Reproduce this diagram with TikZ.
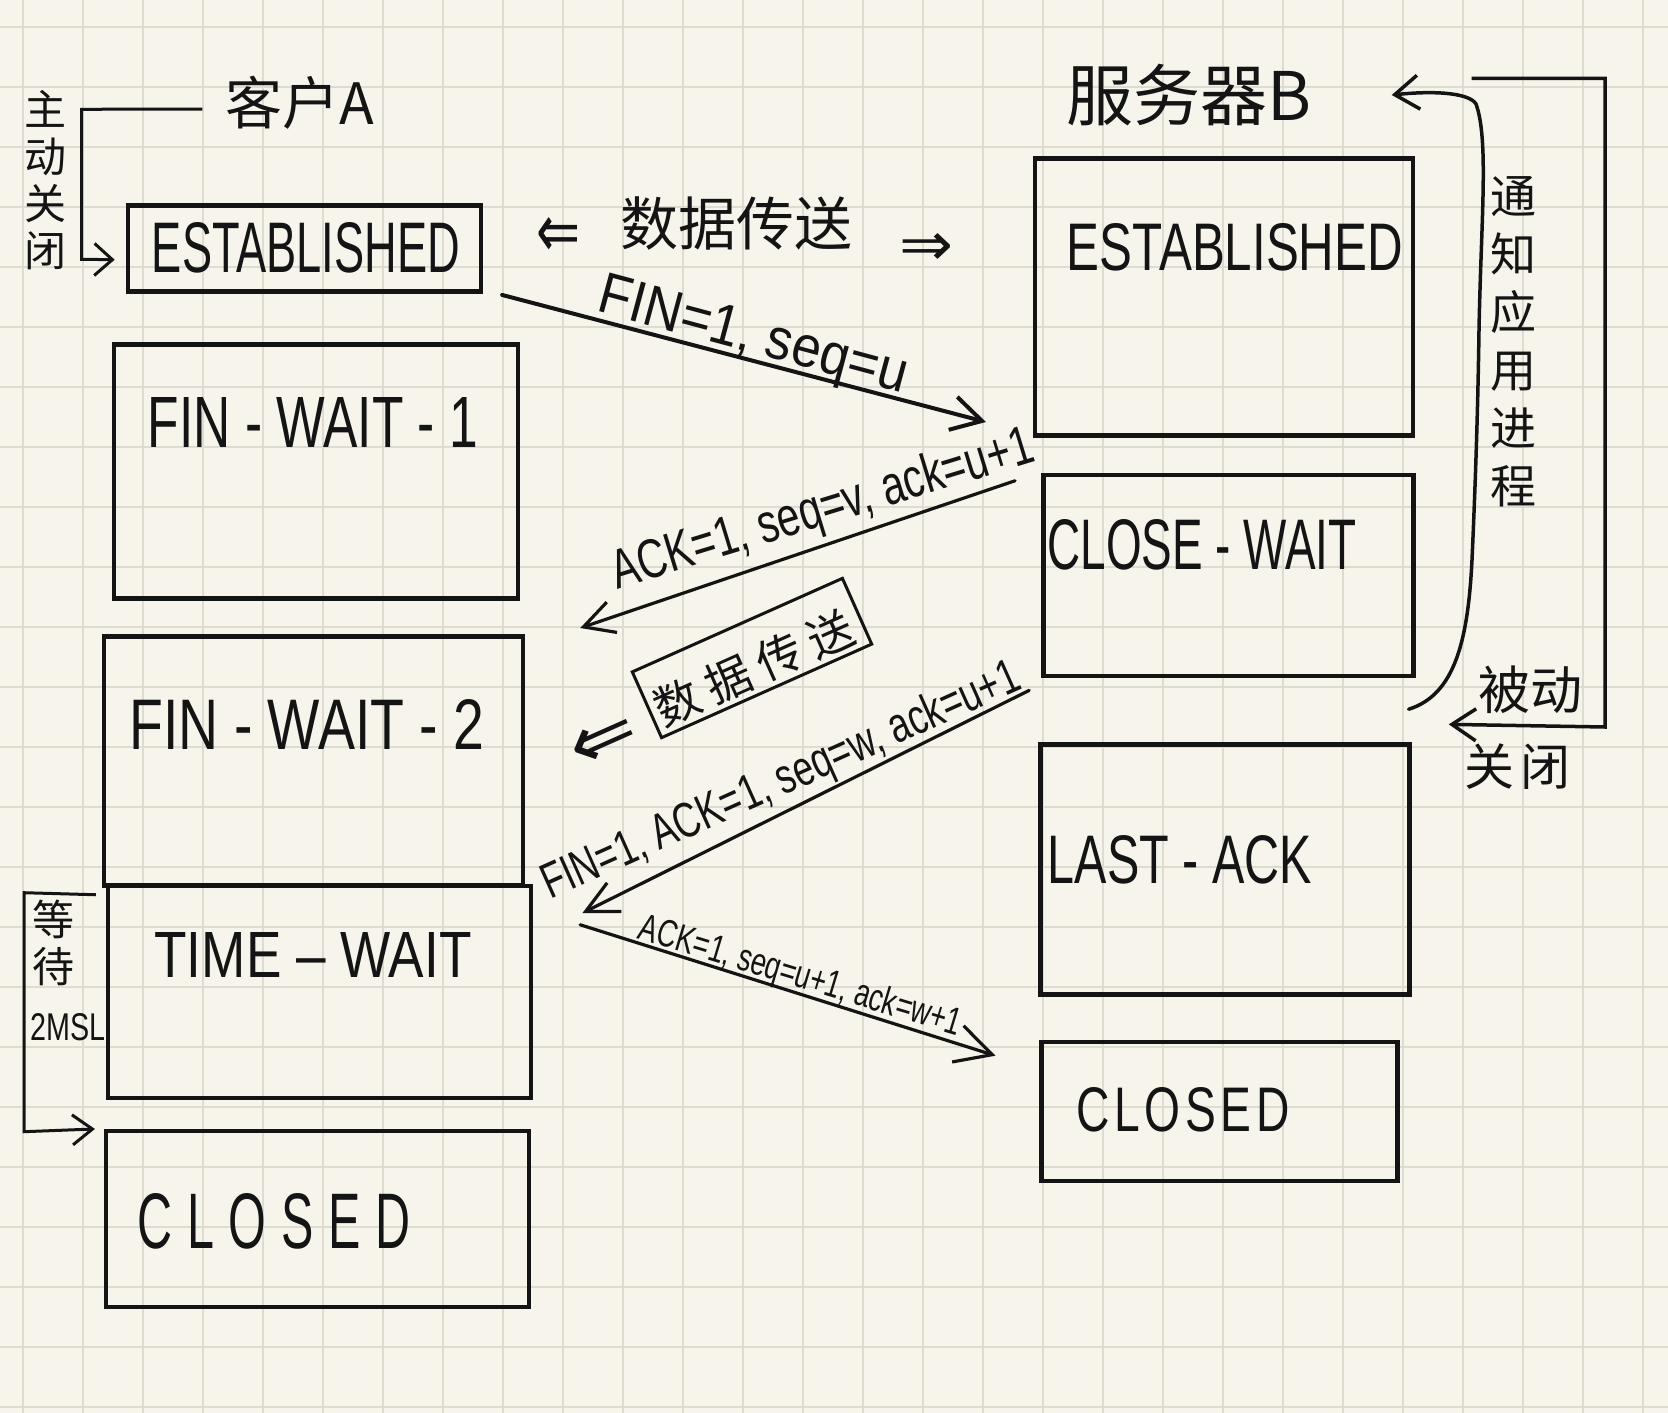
\documentclass[tikz,border=0pt]{standalone}
\usepackage{fontspec}
\usepackage{graphicx}
\setmainfont{Liberation Sans}
\newfontfamily\cjk{Noto Sans CJK SC}
\newfontfamily\dvs{DejaVu Sans}
\usetikzlibrary{arrows.meta,calc}
\definecolor{paper}{HTML}{F7F5EB}
\definecolor{gridc}{HTML}{DEDBD1}
\definecolor{ink}{HTML}{141414}
\newcommand{\fitbox}[3]{\resizebox{#1pt}{#2pt}{#3}}
\begin{document}
\begin{tikzpicture}[x=1pt,y=-1pt,
  statebox/.style={draw=ink,line width=4.5pt,inner sep=0pt},
  lbl/.style={inner sep=0pt,text=ink},
  msg/.style={draw=ink,line width=3.2pt,line cap=round},
  brk/.style={draw=ink,line width=3pt,line join=miter},
  cjkv/.style={lbl,align=center,font=\cjk\fontsize{#1}{#1}\selectfont},
]
% paper
\fill[paper] (0,0) rectangle (1668,1413);
\useasboundingbox (0,0) rectangle (1668,1413);
\foreach \i in {0,...,27} \draw[gridc,line width=2pt] ({23.3+60*\i},0) -- ({23.3+60*\i},1413);
\foreach \j in {0,...,23} \draw[gridc,line width=2pt] (0,{26.7+60*\j}) -- (1668,{26.7+60*\j});

% titles
\node[lbl,font=\cjk\fontsize{57}{60}\selectfont] (cliA) at (300,103) {客户A};
\node[lbl,font=\cjk\fontsize{67}{70}\selectfont] (srvB) at (1189,95) {服务器B};

% client boxes
\node[statebox,minimum width=353pt,minimum height=86pt] (estA) at (304.4,248.7) {};
\node[statebox,minimum width=404pt,minimum height=254pt] (fw1) at (316,471.5) {};
\node[statebox,minimum width=419pt,minimum height=249pt] (fw2) at (313.7,761) {};
\node[statebox,minimum width=423pt,minimum height=212pt] (tw) at (319.4,992) {};
\node[statebox,minimum width=423pt,minimum height=176pt] (clA) at (317.7,1219.2) {};
% server boxes
\node[statebox,minimum width=378pt,minimum height=277pt] (estB) at (1224.2,297) {};
\node[statebox,minimum width=370pt,minimum height=201pt] (cw) at (1228.3,575.5) {};
\node[statebox,minimum width=369pt,minimum height=250pt] (la) at (1225,869.6) {};
\node[statebox,minimum width=356pt,minimum height=139pt] (clB) at (1219.7,1111.7) {};

% state names
\node[lbl] (estAt) at (306,248) {\fitbox{308}{50}{ESTABLISHED}};
\node[lbl] (fw1t) at (313,422) {\fitbox{330}{50}{FIN - WAIT - 1}};
\node[lbl] (fw2t) at (307,724) {\fitbox{355}{50}{FIN - WAIT - 2}};
\node[lbl] (twt) at (313,955) {\fitbox{317}{45}{TIME – WAIT}};
\node[lbl] (clAt) at (274,1221) {\fitbox{272}{55}{\addfontfeatures{LetterSpace=30}CLOSED}};
\node[lbl] (estBt) at (1235,247) {\fitbox{336}{47}{ESTABLISHED}};
\node[lbl] (cwt) at (1202,545) {\fitbox{309}{50}{CLOSE - WAIT}};
\node[lbl] (lat) at (1180,860) {\fitbox{264}{48}{LAST - ACK}};
\node[lbl] (clBt) at (1183,1110) {\fitbox{213}{44}{\addfontfeatures{LetterSpace=10}CLOSED}};

% side notes
\node[cjkv=42,font=\cjk\fontsize{42}{47}\selectfont] (zdgb) at (45,180) {主\\动\\关\\闭};
\node[cjkv=46,font=\cjk\fontsize{46}{58}\selectfont] (tzyy) at (1513,342) {通\\知\\应\\用\\进\\程};
\node[cjkv=52] (bd) at (1530,690) {被动};
\node[cjkv=50] (gb) at (1517,767) {关\hspace{6pt}闭};
\node[cjkv=42,font=\cjk\fontsize{42}{47}\selectfont] (dd) at (53,943) {等\\待};
\node[lbl] (msl) at (68,1027) {\fitbox{75}{27}{2MSL}};

% data transfer (top)
\node[cjkv=58] (sj1) at (736,224) {数据传送};
\node[lbl] (lar1) at (558,237) {\fitbox{44}{40}{\dvs ⇐}};
\node[lbl] (rar1) at (926,249) {\fitbox{54}{32}{\dvs ⇒}};

% data transfer (middle, tilted box)
\node[draw=ink,line width=3pt,minimum width=230pt,minimum height=72pt,rotate=24] (sjbox) at (752,658) {};
\node[lbl,rotate=24,font=\cjk\fontsize{46}{50}\selectfont] (sj2) at (754,668) {数\hspace{10pt}据\hspace{10pt}传\hspace{10pt}送};
\node[lbl,rotate=24] (lar2) at (604,742) {\fitbox{68}{40}{\dvs ⇐}};

% brackets
\coordinate (b1a) at ($(cliA.west)+(-23,6)$);
\coordinate (b1e) at ($(estA.west)+(-11,11)$);
\draw[brk,-{Straight Barb[length=18pt,width=32pt]}] (b1a) -- (81.7,109.3) -- (81.7,259.3) -- (b1e);
\coordinate (b2a) at ($(fw2.south west)+(-6,7)$);
\coordinate (b2e) at ($(clA.north west)+(-9,0)$);
\draw[brk,-{Straight Barb[length=20pt,width=30pt]}] (b2a) -- (24,892.7) -- (24,1131.7) -- (b2e);
\coordinate (b3a) at (1471.7,78.3);
\coordinate (b3e) at ($(la.north east)+(37,-18)$);
\draw[brk,line width=3.5pt,-{Straight Barb[length=24pt,width=32pt]}] (b3a) -- (1605,78.3) -- (1605,727) -- (b3e);
\coordinate (cvs) at ($(cw.south east)+(-7,31)$);
\coordinate (cve) at ($(srvB.east)+(80,0)$);
\draw[ink,line width=3.5pt,line cap=round,-{Straight Barb[length=24pt,width=34pt]}] (cvs)
  .. controls (1455,695) and (1468,640) .. (1472,560)
  .. controls (1476,470) and (1478,400) .. (1479,330)
  .. controls (1481,220) and (1489,140) .. (1476,104)
  .. controls (1470,94) and (1440,90) .. (cve);

% messages
\coordinate (a1s) at ($(estA.south east)+(19,1)$);
\coordinate (a1e) at ($(estB.west)+(-47,125)$);
\draw[msg,line width=4pt,-{Straight Barb[length=30pt,width=34pt]}] (a1s) -- (a1e);
\coordinate (a2s) at ($(cw.north west)+(-26,8)$);
\coordinate (a2e) at ($(fw1.east)+(60,156.5)$);
\draw[msg,-{Straight Barb[length=30pt,width=32pt]}] (a2s) -- (a2e);
\coordinate (a3s) at ($(la.north west)+(-9,-52)$);
\coordinate (a3e) at ($(fw2.east)+(57,152)$);
\draw[msg,-{Straight Barb[length=32pt,width=32pt]}] (a3s) -- (a3e);
\coordinate (a4s) at ($(tw.north east)+(47,41)$);
\coordinate (a4e) at ($(clB.west)+(-44,-56)$);
\draw[msg,-{Straight Barb[length=36pt,width=38pt]}] (a4s) -- (a4e);

% message labels
\node[lbl,rotate=-15,anchor=base] (l1) at (749,352) {\fitbox{317}{40}{FIN=1, seq=u}};
\node[lbl,rotate=17,anchor=base] (l2) at (827,525) {\fitbox{439}{40}{ACK=1, seq=v, ack=u+1}};
\node[lbl,rotate=24.1,anchor=base] (l3) at (787,794) {\fitbox{518}{36}{FIN=1, ACK=1, seq=w, ack=u+1}};
\node[lbl,rotate=-16.8,anchor=base] (l4) at (797,987) {\fitbox{335}{28}{ACK=1, seq=u+1, ack=w+1}};
\end{tikzpicture}
\end{document}
